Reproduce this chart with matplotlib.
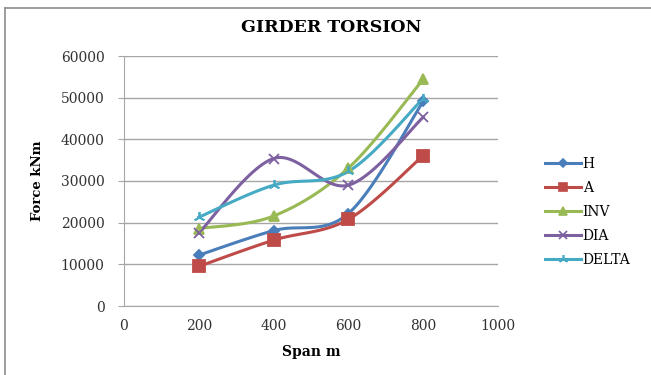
import numpy as np
import matplotlib.pyplot as plt
from matplotlib.lines import Line2D

# duomenys nuskaityti nuo paveikslo
span = [200, 400, 600, 800]
h_vals = [12200, 18100, 22200, 49100]
a_vals = [9500, 15800, 20800, 36100]
inv_vals = [18600, 21600, 33100, 54400]
dia_vals = [17500, 35400, 29000, 45300]
delta_vals = [21300, 29000, 32300, 49800]

names = ['H', 'A', 'INV', 'DIA', 'DELTA']
colors = ['#4A7EBB', '#BE4B48', '#98B954', '#7D60A0', '#46AAC5']
markers = ['D', 's', '^', 'x', (3, 2, 0)]
msizes = [5, 8, 7, 7, 8]


def smooth(xs, ys, n=40):
    # Excel tipo glotninimas (Catmull-Rom -> Bezier)
    xs = np.asarray(xs, float)
    ys = np.asarray(ys, float)
    px = np.concatenate([[xs[0]], xs, [xs[-1]]])
    py = np.concatenate([[ys[0]], ys, [ys[-1]]])
    outx, outy = [], []
    t = np.linspace(0, 1, n)
    for i in range(1, len(px) - 2):
        p0 = np.array([px[i], py[i]])
        p3 = np.array([px[i + 1], py[i + 1]])
        p1 = p0 + (np.array([px[i + 1], py[i + 1]]) - np.array([px[i - 1], py[i - 1]])) / 6
        p2 = p3 - (np.array([px[i + 2], py[i + 2]]) - np.array([px[i], py[i]])) / 6
        b = ((1 - t) ** 3)[:, None] * p0 + (3 * (1 - t) ** 2 * t)[:, None] * p1 \
            + (3 * (1 - t) * t ** 2)[:, None] * p2 + (t ** 3)[:, None] * p3
        outx.extend(b[:, 0])
        outy.extend(b[:, 1])
    return outx, outy


plt.rcParams['font.family'] = ['DejaVu Serif']

fig = plt.figure(figsize=(6.51, 3.75), dpi=100)
# rėmelis (tik kairė ir viršus matosi)
bx, by = 5 / 651, 1 - 8 / 375
fig.add_artist(Line2D([bx, bx], [0, by], transform=fig.transFigure, color='#8c8c8c', linewidth=1.2))
fig.add_artist(Line2D([bx, 1], [by, by], transform=fig.transFigure, color='#8c8c8c', linewidth=1.2))

ax = fig.add_axes([124 / 651, 1 - 306 / 375, (498 - 124) / 651, (306 - 56) / 375])

series = [h_vals, a_vals, inv_vals, dia_vals, delta_vals]
for name, vals, c, m, ms in zip(names, series, colors, markers, msizes):
    sx, sy = smooth(span, vals)
    ax.plot(sx, sy, color=c, linewidth=2.2, zorder=3)
    ax.plot(span, vals, linestyle='none', marker=m, color=c, markersize=ms,
            markeredgewidth=1.3, zorder=4)
    ax.plot([], [], color=c, linewidth=2.2, marker=m, markersize=ms * 0.8,
            markeredgewidth=1.2, label=name)

ax.set_xlim(0, 1000)
ax.set_ylim(0, 60000)
ax.set_xticks([0, 200, 400, 600, 800, 1000])
ax.set_yticks(np.arange(0, 60001, 10000))
ax.grid(axis='y', color='#a6a6a6', linewidth=1)
ax.set_axisbelow(True)
for s in ['top', 'right']:
    ax.spines[s].set_visible(False)
for s in ['left', 'bottom']:
    ax.spines[s].set_color('#a6a6a6')
ax.tick_params(axis='y', colors='#a6a6a6', labelcolor='#333333', labelsize=10, length=4, pad=10)
ax.tick_params(axis='x', colors='#a6a6a6', labelcolor='#333333', labelsize=10, length=0, pad=9)

ax.set_xlabel('Span m', fontsize=10, fontweight='bold', labelpad=9)
ax.set_ylabel('Force kNm', fontsize=9.5, fontweight='bold', labelpad=12)
fig.text(331 / 651, 1 - 28 / 375, 'GIRDER TORSION', fontsize=12.5, fontweight='bold',
         ha='center', va='center')

fig.legend(loc='center left', bbox_to_anchor=(532 / 651, 1 - 212 / 375), frameon=False,
           fontsize=10, handlelength=2.6, handletextpad=0.15, labelspacing=0.72)

plt.savefig('out.png', dpi=100)
